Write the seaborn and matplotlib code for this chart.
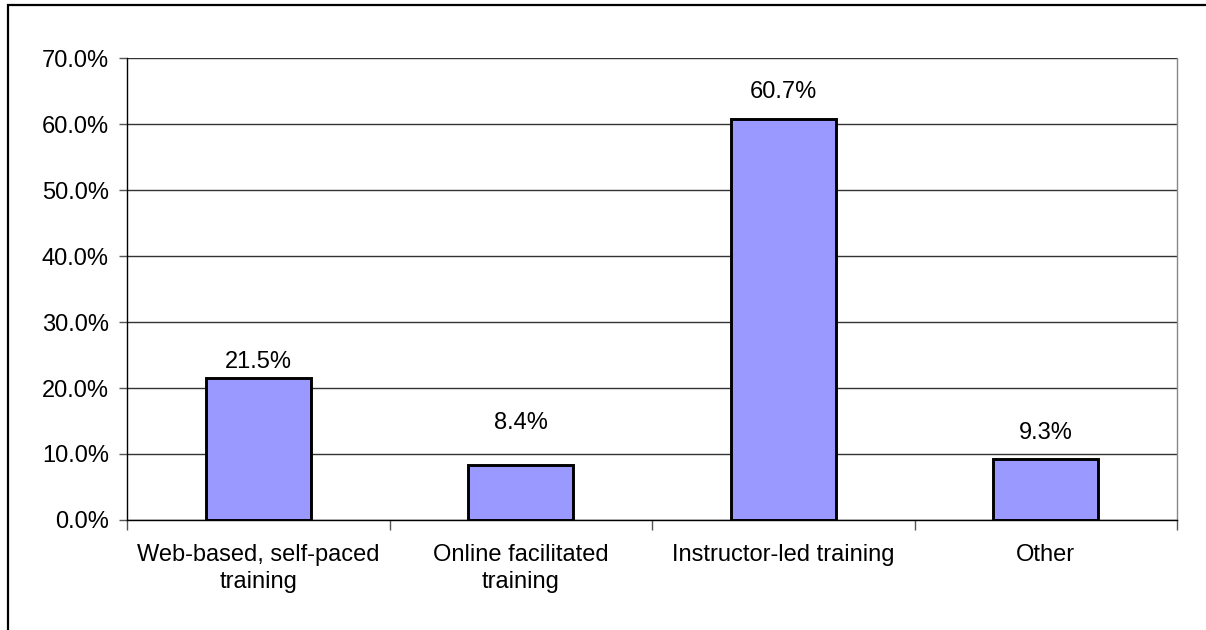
import matplotlib
matplotlib.use("Agg")
import matplotlib.pyplot as plt
from matplotlib.patches import Rectangle
from matplotlib.ticker import FuncFormatter, FixedLocator
import pandas as pd
import seaborn as sns

# Chart data
categories = ["Web-based, self-paced\ntraining", "Online facilitated\ntraining",
              "Instructor-led training", "Other"]
shares = [21.5, 8.4, 60.7, 9.3]
y_ticks = [0, 10, 20, 30, 40, 50, 60, 70]

# label gaps above each bar (pixels), as placed in the original
label_gap = [16, 42, 27, 26]

sns.set_theme(style="white")
plt.rcParams["font.family"] = ["Liberation Sans", "DejaVu Sans"]

df = pd.DataFrame({"category": categories, "share": shares})

fig = plt.figure(figsize=(12.06, 6.3), dpi=100)
ax = fig.add_axes([127 / 1206, 110 / 630, 1050 / 1206, 462 / 630])

sns.barplot(data=df, x="category", y="share", ax=ax, width=0.4,
            color="#9999FF", saturation=1, edgecolor="black", linewidth=2.1)

ax.set_xlim(-0.5, len(categories) - 0.5)
ax.set_ylim(0, 70)
ax.set_yticks(y_ticks)
ax.yaxis.set_major_formatter(FuncFormatter(lambda v, p: f"{v:.1f}%"))
ax.yaxis.grid(True, color="#333333", linewidth=1.0)
ax.set_axisbelow(True)
ax.set_xlabel("")
ax.set_ylabel("")

# spines
for side in ["left", "bottom"]:
    ax.spines[side].set_color("black")
    ax.spines[side].set_linewidth(1.0)
ax.spines["right"].set_color("#888888")
ax.spines["right"].set_linewidth(1.0)
ax.spines["top"].set_visible(False)

# ticks
ax.tick_params(axis="y", direction="out", length=6, width=1, color="#555555",
               left=True, labelsize=17, pad=7, labelcolor="black")
ax.tick_params(axis="x", which="major", length=0, labelsize=17, pad=17,
               labelcolor="black")
for lbl in ax.get_xticklabels():
    lbl.set_linespacing(1.3)
ax.xaxis.set_minor_locator(FixedLocator([i - 0.5 for i in range(len(categories) + 1)]))
ax.tick_params(axis="x", which="minor", direction="out", length=7, width=1,
               color="#555555", bottom=True)

# value labels
for i, (v, gap) in enumerate(zip(shares, label_gap)):
    ax.annotate(f"{v:.1f}%", xy=(i, v), xytext=(0, gap), textcoords="offset pixels",
                ha="center", va="center", fontsize=17, color="black")

# outer chart frame (cropped at right and bottom)
fig.patches.append(Rectangle((8 / 1206, -0.1), 2, 1.1 - 5 / 630, transform=fig.transFigure,
                             fill=False, edgecolor="black", linewidth=1.6))

fig.savefig("out.png", dpi=100, facecolor="white")
